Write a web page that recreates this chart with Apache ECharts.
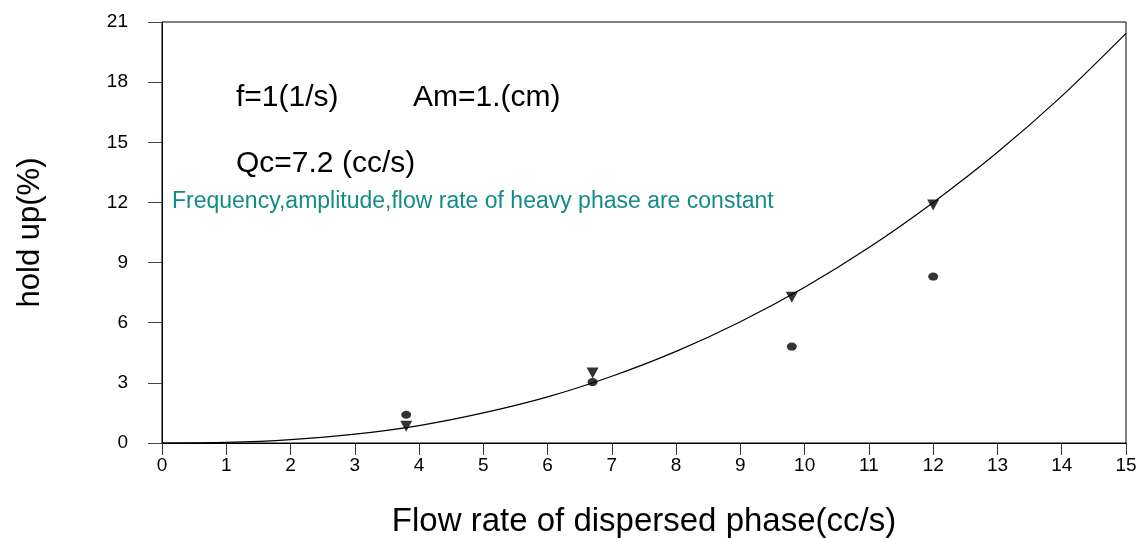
<!DOCTYPE html>
<html>
<head>
<meta charset="utf-8">
<script src="https://cdn.jsdelivr.net/npm/echarts@6/dist/echarts.min.js"></script>
<style>
  html, body { margin: 0; padding: 0; background: #fff; }
  #chart { width: 1136px; height: 538px; }
</style>
</head>
<body>
<div id="chart"></div>
<script>
// fitted curve
var curveX = [0, 1, 2, 3, 4, 5, 6, 7, 8, 9, 10, 11, 12, 13, 14, 15];
var curveY = [0, 0.03, 0.17, 0.44, 0.87, 1.5, 2.3, 3.33, 4.57, 6.05, 7.77, 9.75, 12.0, 14.5, 17.3, 20.43];

// measured points
var pointX = [3.8, 6.7, 9.8, 12];
var triY = [0.83, 3.49, 7.27, 11.87];
var dotY = [1.41, 3.04, 4.81, 8.30];

var xTicks = [0, 1, 2, 3, 4, 5, 6, 7, 8, 9, 10, 11, 12, 13, 14, 15];
var yTicks = [0, 3, 6, 9, 12, 15, 18, 21];

function pairs(xs, ys) {
    return xs.map(function (x, i) { return [x, ys[i]]; });
}

var font = 'Liberation Sans, Arial, sans-serif';
var myChart = echarts.init(document.getElementById('chart'));
myChart.setOption({
    animation: false,
    textStyle: {fontFamily: font},
    grid: {
        left: 162, right: 10, top: 22, bottom: 95,
        outerBoundsMode: 'none',
        show: true, borderColor: '#000', borderWidth: 1
    },
    xAxis: {
        type: 'value',
        min: xTicks[0], max: xTicks[xTicks.length - 1], interval: 1,
        name: 'Flow rate of dispersed phase(cc/s)',
        nameLocation: 'middle', nameGap: 62,
        nameTextStyle: {fontSize: 33, color: '#000'},
        axisLine: {lineStyle: {color: '#000'}},
        axisTick: {length: 12, lineStyle: {color: '#333'}},
        axisLabel: {fontSize: 19, color: '#000', margin: 13},
        splitLine: {show: false}
    },
    yAxis: {
        type: 'value',
        min: yTicks[0], max: yTicks[yTicks.length - 1], interval: 3,
        name: 'hold up(%)',
        nameLocation: 'middle', nameGap: 116,
        nameTextStyle: {fontSize: 31, color: '#000'},
        axisLine: {lineStyle: {color: '#000'}},
        axisTick: {length: 14, lineStyle: {color: '#444'}},
        axisLabel: {fontSize: 19, color: '#000', margin: 34},
        splitLine: {show: false}
    },
    graphic: [
        {type: 'text', left: 236, top: 83, style: {text: 'f=1(1/s)', fontSize: 30, fill: '#000', fontFamily: font}},
        {type: 'text', left: 413, top: 83, style: {text: 'Am=1.(cm)', fontSize: 30, fill: '#000', fontFamily: font}},
        {type: 'text', left: 236, top: 149, style: {text: 'Qc=7.2 (cc/s)', fontSize: 30, fill: '#000', fontFamily: font}},
        {type: 'text', left: 172, top: 190, style: {text: 'Frequency,amplitude,flow rate of heavy phase are constant', fontSize: 23, fill: '#138b87', fontFamily: font}}
    ],
    series: [
        {
            name: 'fit',
            type: 'line',
            data: pairs(curveX, curveY),
            smooth: 0.3,
            showSymbol: false,
            lineStyle: {color: '#000', width: 1.2},
            z: 2
        },
        {
            name: 'triangle',
            type: 'scatter',
            data: pairs(pointX, triY),
            symbol: 'triangle',
            symbolRotate: 180,
            symbolSize: [12, 11],
            itemStyle: {color: '#000'},
            z: 3
        },
        {
            name: 'dot',
            type: 'scatter',
            data: pairs(pointX, dotY),
            symbol: 'circle',
            symbolSize: [10, 8],
            itemStyle: {color: '#000'},
            z: 3
        }
    ]
});
</script>
</body>
</html>
